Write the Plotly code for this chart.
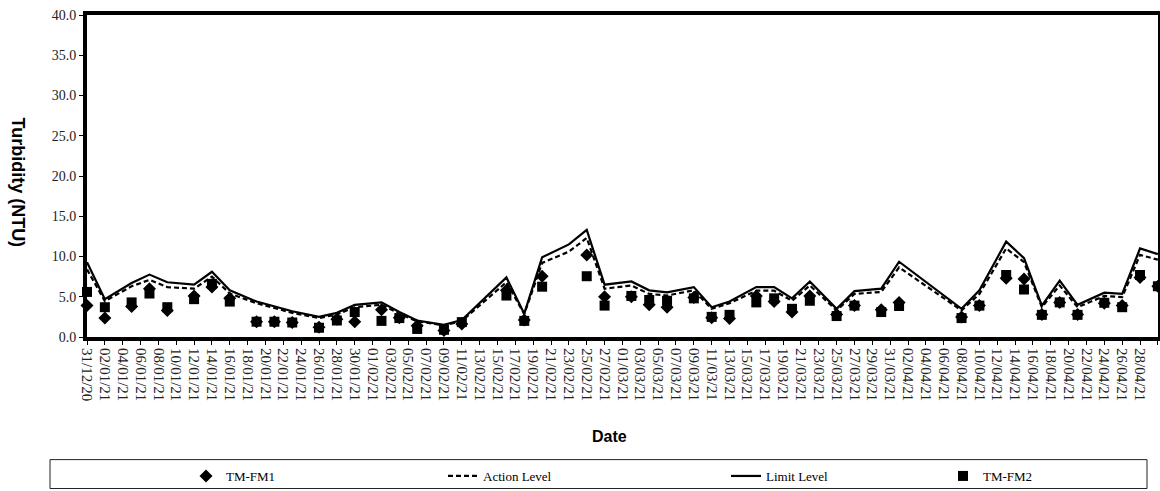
import plotly.graph_objects as go

dates = ["2020-12-31","2021-01-02","2021-01-05","2021-01-07","2021-01-09","2021-01-12","2021-01-14","2021-01-16",
         "2021-01-19","2021-01-21","2021-01-23","2021-01-26","2021-01-28","2021-01-30","2021-02-02","2021-02-04",
         "2021-02-06","2021-02-09","2021-02-11","2021-02-16","2021-02-18","2021-02-20","2021-02-23","2021-02-25",
         "2021-02-27","2021-03-02","2021-03-04","2021-03-06","2021-03-09","2021-03-11","2021-03-13","2021-03-16",
         "2021-03-18","2021-03-20","2021-03-22","2021-03-25","2021-03-27","2021-03-30","2021-04-01","2021-04-08",
         "2021-04-10","2021-04-13","2021-04-15","2021-04-17","2021-04-19","2021-04-21","2021-04-24","2021-04-26",
         "2021-04-28","2021-04-30"]

limit_level = [9.3, 4.7, 6.7, 7.75, 6.8, 6.5, 8.1, 5.8, 4.4, 3.8, 3.2, 2.5, 3.0, 4.0, 4.3, 3.1, 2.05, 1.5, 2.1,
               7.4, 2.9, 9.9, 11.5, 13.3, 6.5, 6.9, 5.8, 5.55, 6.2, 3.7, 4.4, 6.2, 6.2, 4.8, 6.9, 3.5, 5.7,
               6.0, 9.35, 3.5, 5.8, 11.85, 9.8, 3.9, 7.0, 4.0, 5.5, 5.35, 11.0, 10.3]

action_level = [8.4, 4.45, 6.3, 7.1, 6.2, 6.0, 7.5, 5.4, 4.2, 3.6, 3.0, 2.35, 2.8, 3.7, 4.0, 2.9, 1.95, 1.45, 2.0,
                6.8, 2.85, 9.2, 10.6, 12.3, 6.0, 6.4, 5.35, 5.15, 5.8, 3.5, 4.2, 5.75, 5.75, 4.5, 6.4, 3.3, 5.35,
                5.6, 8.65, 3.3, 5.35, 11.0, 9.3, 3.7, 6.4, 3.7, 5.1, 4.95, 10.2, 9.6]

tm_fm1 = [3.9, 2.35, 3.8, 6.0, 3.3, 5.1, 6.2, 4.8, 1.9, 1.9, 1.8, 1.2, 2.2, 1.9, 3.4, 2.4, 1.4, 0.8, 1.6,
          5.8, 2.1, 7.55, None, 10.2, 5.0, 5.0, 4.0, 3.7, 4.9, 2.4, 2.3, 5.1, 4.4, 3.1, 5.1, 2.8, 3.9,
          3.4, 4.3, 2.5, 3.9, 7.3, 7.2, 2.8, 4.3, 2.8, 4.2, 3.9, 7.4, 6.3]

tm_fm2 = [5.6, 3.7, 4.3, 5.4, 3.7, 4.7, 6.6, 4.4, 1.9, 1.9, 1.8, 1.15, 2.05, 3.1, 2.0, 2.35, 1.0, 0.9, 1.85,
          5.15, 2.0, 6.25, None, 7.55, 3.9, 5.1, 4.6, 4.5, 4.8, 2.5, 2.75, 4.3, 4.8, 3.5, 4.5, 2.6, 3.9,
          3.1, 3.85, 2.35, 3.9, 7.7, 5.9, 2.75, 4.3, 2.75, 4.25, 3.7, 7.7, 6.3]

y_ticks = [0, 5, 10, 15, 20, 25, 30, 35, 40]

W, H = 1160, 491
L, R, T, B = 87, 2, 15, 153
pw = W - L - R
ph = H - T - B

def px_x(p):
    return (p - L) / pw

def px_y(p):
    return (H - B - p) / ph

serif = "Liberation Serif, Times New Roman, serif"
sans = "Liberation Sans, Arial, sans-serif"

fig = go.Figure()
fig.add_trace(go.Scatter(x=dates, y=limit_level, mode="lines", name="Limit Level",
                         line=dict(color="black", width=2.2), cliponaxis=False, legend="legend3"))
fig.add_trace(go.Scatter(x=dates, y=action_level, mode="lines", name="Action Level",
                         line=dict(color="black", width=2.2, dash="5px,3px"), cliponaxis=False, legend="legend2"))
fig.add_trace(go.Scatter(x=dates, y=tm_fm1, mode="markers", name="TM-FM1",
                         marker=dict(symbol="diamond", size=10, color="black"), cliponaxis=False, legend="legend"))
fig.add_trace(go.Scatter(x=dates, y=tm_fm2, mode="markers", name="TM-FM2",
                         marker=dict(symbol="square", size=10, color="black"), cliponaxis=False, legend="legend4"))

leg_common = dict(font=dict(family=serif, size=13, color="black"), bgcolor="rgba(0,0,0,0)",
                  borderwidth=0, yanchor="middle", xanchor="left", orientation="h")
ly = px_y(476)
fig.update_layout(
    legend=dict(x=px_x(186), y=ly, **leg_common),
    legend2=dict(x=px_x(443), y=ly, **leg_common),
    legend3=dict(x=px_x(726), y=ly, **leg_common),
    legend4=dict(x=px_x(943), y=ly, **leg_common),
)

fig.add_shape(type="rect", xref="paper", yref="paper",
              x0=px_x(50), x1=px_x(1147), y0=px_y(490), y1=px_y(461),
              line=dict(color="#222222", width=1), fillcolor="rgba(0,0,0,0)")

fig.add_annotation(text="<b>Date</b>", xref="paper", yref="paper", x=px_x(609), y=px_y(438),
                   showarrow=False, font=dict(family=sans, size=16, color="black"),
                   xanchor="center", yanchor="middle")
fig.add_annotation(text="<b>Turbidity (NTU)</b>", xref="paper", yref="paper", x=px_x(18), y=px_y(183),
                   showarrow=False, font=dict(family=sans, size=18, color="black"), textangle=90,
                   xanchor="center", yanchor="middle")

fig.update_xaxes(type="date", range=["2020-12-31", "2021-04-30 00:20"], tick0="2020-12-31",
                 dtick=2 * 86400000, tickformat="%d/%m/%y", tickangle=90,
                 tickfont=dict(family=serif, size=15, color="#222222"),
                 showline=True, linecolor="black", linewidth=4, mirror=True,
                 ticks="outside", ticklen=4, tickwidth=1, tickcolor="black",
                 showgrid=False, zeroline=False, automargin=False)
fig.update_yaxes(range=[0, 40], tickvals=y_ticks, tickformat=".1f",
                 tickfont=dict(family=serif, size=14, color="#222222"),
                 showline=True, linecolor="black", linewidth=4, mirror=True,
                 ticks="outside", ticklen=4, tickwidth=1, tickcolor="black",
                 showgrid=False, zeroline=False, automargin=False)

fig.update_layout(width=W, height=H, margin=dict(l=L, r=R, t=T, b=B),
                  plot_bgcolor="white", paper_bgcolor="white", showlegend=True)

fig.write_html("out.html", config={"displayModeBar": False},
               post_script="document.body.style.margin='0';document.body.style.padding='0';"
                           "document.documentElement.style.overflow='hidden';")
